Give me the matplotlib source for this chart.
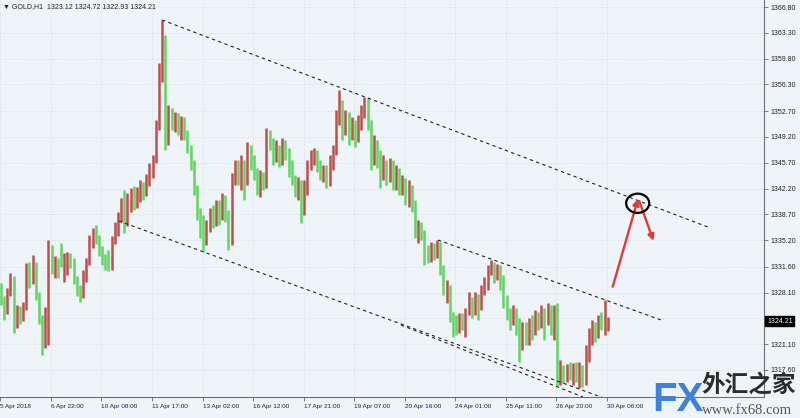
import numpy as np
import matplotlib.pyplot as plt
from matplotlib.patches import Ellipse

# GOLD,H1 screenshot in two-hour steps
opens = [1328.4, 1327.1, 1325.5, 1328.2, 1330.1, 1324.4, 1325.5, 1324.6, 1326.3, 1331.2,
         1329.8, 1332.2, 1327.8, 1324.6, 1321.0, 1324.1, 1333.9, 1331.4, 1332.5, 1334.5,
         1330.1, 1331.2, 1333.2, 1332.2, 1329.8, 1328.4, 1327.8, 1330.3, 1332.2, 1335.2,
         1336.0, 1335.5, 1333.9, 1332.8, 1332.2, 1331.7, 1335.2, 1336.6, 1338.2, 1340.6,
         1337.7, 1340.0, 1340.9, 1340.0, 1340.9, 1342.5, 1341.6, 1343.1, 1344.7, 1346.1,
         1350.4, 1356.9, 1362.3, 1349.0, 1352.6, 1350.8, 1351.8, 1350.4, 1351.5, 1349.5,
         1347.7, 1345.4, 1342.0, 1338.6, 1336.3, 1335.2, 1336.8, 1339.0, 1337.7, 1340.0,
         1338.6, 1340.6, 1338.6, 1335.2, 1343.4, 1345.4, 1343.6, 1345.4, 1343.4, 1347.4,
         1346.1, 1344.0, 1342.0, 1343.6, 1342.7, 1349.5, 1348.1, 1346.7, 1347.4, 1346.1,
         1348.5, 1346.7, 1345.4, 1343.4, 1342.0, 1342.7, 1339.3, 1342.7, 1345.4, 1346.7,
         1347.2, 1345.4, 1344.0, 1344.7, 1343.1, 1345.4, 1347.4, 1351.5, 1353.5, 1350.1,
         1351.8, 1350.1, 1350.8, 1349.0, 1350.8, 1352.8, 1354.2, 1350.8, 1346.3, 1347.4,
         1346.3, 1344.0, 1345.4, 1344.4, 1345.4, 1344.0, 1344.4, 1342.7, 1343.1, 1341.3,
         1342.0, 1340.0, 1336.6, 1337.3, 1335.9, 1333.2, 1332.8, 1334.1, 1333.2, 1334.5,
         1331.2, 1328.4, 1328.4, 1325.1, 1324.1, 1323.0, 1324.6, 1323.0, 1325.5, 1326.8,
         1325.7, 1327.4, 1326.4, 1328.4, 1329.8, 1331.4, 1331.8, 1330.5, 1331.4, 1329.8,
         1327.1, 1325.1, 1324.1, 1325.5, 1324.1, 1321.7, 1323.0, 1321.9, 1323.7, 1323.0,
         1324.6, 1323.7, 1325.1, 1324.4, 1325.7, 1323.0, 1325.1, 1316.9, 1317.9, 1316.5,
         1317.6, 1316.9, 1318.0, 1316.5, 1317.9, 1316.2, 1319.6, 1321.7, 1323.0, 1322.3,
         1324.4, 1323.0, 1323.12]
highs = [1329.4, 1327.6, 1328.7, 1330.7, 1330.3, 1326.4, 1326.3, 1326.8, 1332.1, 1332.2,
         1333.2, 1332.3, 1328.2, 1325.1, 1326.1, 1335.2, 1334.5, 1333.1, 1332.8, 1334.8,
         1333.5, 1333.6, 1333.5, 1332.8, 1330.3, 1329.1, 1331.2, 1332.8, 1335.9, 1336.8,
         1337.3, 1335.9, 1334.4, 1333.3, 1333.9, 1335.8, 1337.7, 1339.0, 1340.9, 1342.0,
         1341.6, 1342.3, 1342.5, 1342.4, 1343.4, 1343.1, 1344.2, 1345.7, 1346.7, 1351.5,
         1359.2, 1365.0, 1363.0, 1353.5, 1353.1, 1352.6, 1352.4, 1352.0, 1351.9, 1350.1,
         1348.1, 1346.1, 1342.7, 1339.6, 1338.6, 1337.9, 1339.6, 1340.0, 1340.6, 1340.6,
         1341.6, 1341.3, 1339.3, 1344.3, 1346.1, 1346.1, 1346.7, 1346.1, 1348.5, 1348.1,
         1346.7, 1345.0, 1344.7, 1344.4, 1350.4, 1350.1, 1349.0, 1348.8, 1348.1, 1349.0,
         1348.8, 1347.7, 1346.1, 1344.0, 1343.8, 1343.4, 1343.4, 1346.1, 1347.4, 1347.7,
         1347.4, 1346.1, 1345.4, 1345.4, 1346.7, 1348.1, 1352.8, 1355.6, 1354.2, 1352.8,
         1352.6, 1351.9, 1351.5, 1352.2, 1353.5, 1354.6, 1354.5, 1351.5, 1349.5, 1348.8,
         1347.4, 1346.7, 1346.1, 1346.3, 1346.1, 1345.4, 1345.0, 1344.0, 1343.6, 1343.4,
         1342.7, 1340.6, 1337.9, 1337.7, 1336.6, 1334.5, 1335.0, 1334.8, 1335.2, 1335.0,
         1331.8, 1329.8, 1329.1, 1325.5, 1325.1, 1325.3, 1325.3, 1326.0, 1328.2, 1327.5,
         1328.2, 1327.9, 1329.1, 1330.2, 1331.8, 1332.5, 1332.2, 1332.0, 1331.8, 1330.5,
         1327.8, 1326.0, 1326.4, 1326.0, 1324.6, 1324.1, 1324.1, 1324.6, 1325.1, 1325.7,
         1325.5, 1326.4, 1326.0, 1326.7, 1326.4, 1326.4, 1326.7, 1319.0, 1318.3, 1318.4,
         1318.7, 1318.5, 1318.7, 1318.7, 1318.3, 1321.0, 1323.3, 1324.4, 1324.1, 1325.1,
         1325.5, 1327.1, 1324.72]
lows = [1326.4, 1324.4, 1325.2, 1327.6, 1322.6, 1323.3, 1323.8, 1324.2, 1325.7, 1328.7,
        1329.3, 1327.1, 1323.8, 1319.6, 1320.6, 1321.0, 1330.6, 1330.1, 1330.1, 1331.6,
        1329.5, 1330.5, 1331.4, 1329.3, 1327.6, 1326.8, 1327.4, 1329.5, 1331.8, 1334.1,
        1334.7, 1333.1, 1331.8, 1331.2, 1331.0, 1331.2, 1334.7, 1335.8, 1337.7, 1336.2,
        1337.1, 1339.0, 1339.3, 1339.6, 1340.4, 1340.6, 1341.2, 1342.5, 1343.6, 1345.7,
        1350.1, 1356.6, 1347.4, 1348.1, 1350.1, 1349.9, 1349.5, 1348.8, 1348.8, 1347.0,
        1344.7, 1341.3, 1337.9, 1335.5, 1333.6, 1334.5, 1336.3, 1336.8, 1337.1, 1337.3,
        1337.9, 1337.7, 1333.9, 1334.5, 1342.7, 1342.7, 1342.0, 1340.6, 1342.7, 1344.7,
        1343.4, 1341.3, 1341.0, 1342.0, 1342.3, 1347.4, 1345.4, 1345.8, 1345.1, 1345.4,
        1346.1, 1343.8, 1342.7, 1341.0, 1340.6, 1337.5, 1338.6, 1341.3, 1344.7, 1345.4,
        1344.4, 1343.4, 1343.1, 1342.3, 1342.5, 1344.7, 1346.7, 1350.8, 1348.8, 1349.5,
        1348.1, 1348.8, 1347.8, 1348.5, 1350.1, 1351.8, 1350.1, 1344.7, 1345.4, 1345.0,
        1342.3, 1343.4, 1342.7, 1343.1, 1342.0, 1342.0, 1341.3, 1341.3, 1340.0, 1339.7,
        1339.0, 1335.5, 1334.8, 1335.2, 1331.8, 1332.1, 1332.2, 1332.5, 1332.8, 1330.5,
        1327.8, 1326.7, 1324.1, 1322.1, 1322.3, 1322.6, 1323.0, 1322.1, 1325.1, 1324.6,
        1325.1, 1324.4, 1325.7, 1327.8, 1328.4, 1330.5, 1329.4, 1329.8, 1328.4, 1326.0,
        1324.4, 1323.0, 1323.7, 1322.3, 1318.7, 1320.3, 1321.0, 1321.0, 1321.7, 1322.3,
        1323.0, 1323.3, 1321.7, 1323.7, 1322.3, 1321.7, 1315.4, 1315.6, 1315.8, 1316.0,
        1316.2, 1315.6, 1316.0, 1315.2, 1315.3, 1315.6, 1318.7, 1321.0, 1321.4, 1321.9,
        1323.0, 1322.3, 1322.93]
closes = [1327.1, 1325.5, 1328.2, 1330.1, 1324.4, 1325.5, 1324.6, 1326.3, 1331.2, 1329.8,
          1332.2, 1327.8, 1324.6, 1321.0, 1324.4, 1333.9, 1331.4, 1332.5, 1331.2, 1331.8,
          1333.1, 1333.2, 1331.8, 1329.8, 1328.2, 1327.4, 1330.5, 1332.2, 1335.2, 1336.0,
          1335.2, 1333.9, 1332.2, 1331.7, 1331.4, 1335.2, 1337.1, 1338.2, 1340.4, 1337.3,
          1340.0, 1340.9, 1340.0, 1341.3, 1342.7, 1341.3, 1343.4, 1345.0, 1346.1, 1350.4,
          1357.6, 1363.0, 1348.8, 1352.6, 1350.8, 1351.8, 1350.4, 1351.5, 1349.5, 1347.4,
          1345.4, 1342.0, 1338.6, 1336.3, 1335.2, 1337.3, 1339.0, 1337.9, 1340.0, 1338.6,
          1340.9, 1338.6, 1335.2, 1343.4, 1345.4, 1343.6, 1344.7, 1342.7, 1347.4, 1345.8,
          1344.0, 1342.7, 1344.0, 1342.7, 1349.5, 1348.1, 1346.7, 1347.4, 1346.1, 1348.5,
          1346.7, 1345.4, 1343.4, 1341.7, 1342.7, 1339.3, 1342.7, 1345.4, 1346.7, 1347.2,
          1345.4, 1344.0, 1344.7, 1343.1, 1345.4, 1347.4, 1351.5, 1353.5, 1350.1, 1351.8,
          1350.1, 1350.8, 1348.8, 1350.8, 1352.8, 1354.2, 1350.8, 1346.1, 1347.4, 1346.1,
          1344.0, 1345.4, 1344.4, 1345.4, 1344.0, 1344.7, 1342.7, 1343.1, 1341.3, 1342.3,
          1340.0, 1336.6, 1337.3, 1335.9, 1333.2, 1332.8, 1334.1, 1333.2, 1334.5, 1331.2,
          1328.4, 1329.1, 1325.1, 1323.0, 1323.0, 1324.6, 1323.7, 1325.5, 1326.8, 1325.7,
          1327.4, 1326.4, 1328.4, 1329.8, 1331.4, 1331.8, 1330.5, 1331.4, 1329.8, 1327.1,
          1325.1, 1324.1, 1325.5, 1324.1, 1321.7, 1323.0, 1322.3, 1323.7, 1323.0, 1324.6,
          1323.7, 1325.1, 1324.4, 1325.7, 1324.4, 1325.1, 1316.9, 1317.9, 1316.9, 1317.9,
          1317.3, 1318.0, 1317.3, 1317.9, 1316.2, 1319.6, 1321.7, 1323.0, 1322.3, 1324.4,
          1323.7, 1323.7, 1324.21]

date_labels = ["5 Apr 2018", "6 Apr 22:00", "10 Apr 08:00", "11 Apr 17:00", "13 Apr 02:00",
               "16 Apr 12:00", "17 Apr 21:00", "19 Apr 07:00", "20 Apr 16:00", "24 Apr 01:00",
               "25 Apr 11:00", "26 Apr 20:00", "30 Apr 06:00"]
price_ticks = [1366.80, 1363.30, 1359.80, 1356.30, 1352.70, 1349.20, 1345.70, 1342.20,
               1338.70, 1335.20, 1331.60, 1328.10, 1324.60, 1321.10, 1317.60]

# hand-drawn channel lines, (bar, price) at each end
upper_line = [(51.0, 1365.04), (223.7, 1336.98)]
lower_line = [(37.3, 1337.80), (190.8, 1313.80)]
lower_line2 = [(126.6, 1323.70), (184.2, 1313.94)]
mid_line = [(138.3, 1335.22), (209.8, 1324.24)]

bg = '#eff4f9'
up_col = '#bd4f4c'
down_col = '#62d562'

fig = plt.figure(figsize=(8, 4.18), dpi=100, facecolor=bg)
ax = fig.add_axes([0, 21 / 418, 764 / 800, 397 / 418], facecolor=bg)

o = np.array(opens)
h = np.array(highs)
l = np.array(lows)
c = np.array(closes)
x = np.arange(len(c))
up = c >= o

ax.vlines(x[up], l[up], h[up], colors=up_col, lw=1.8, zorder=3)
ax.vlines(x[~up], l[~up], h[~up], colors=down_col, lw=1.8, zorder=3)

for pts in (upper_line, lower_line, lower_line2, mid_line):
    (x0, y0), (x1, y1) = pts
    ax.plot([x0, x1], [y0, y1], color='#222222', lw=0.8, ls=(0, (3, 3)), zorder=4)

# red arrows and circle
ax.annotate('', xy=(201.6, 1340.8), xytext=(193.6, 1328.9),
            arrowprops=dict(arrowstyle='-|>', color='#e53935', lw=1.7, mutation_scale=9,
                            shrinkA=0, shrinkB=0), zorder=5)
ax.annotate('', xy=(206.5, 1335.1), xytext=(202.0, 1340.5),
            arrowprops=dict(arrowstyle='-|>', color='#e53935', lw=1.7, mutation_scale=9,
                            shrinkA=0, shrinkB=0), zorder=5)
ax.add_patch(Ellipse((201.5, 1340.2), 7.3, 2.6, fill=False, ec='black', lw=1.6, zorder=6))

ax.set_xlim(-0.3, -0.3 + 764 / 3.16)
ax.set_ylim(1313.94, 1367.75)

xt = np.arange(len(date_labels)) * 16 - 0.2
ax.set_xticks(xt)
ax.set_xticklabels(date_labels, fontsize=4.6, family='Liberation Sans', color='#222222')
for lab in ax.get_xticklabels():
    lab.set_horizontalalignment('left')

# the 1324.60 label sits under the last-price box
ax.set_yticks(price_ticks)
ax.set_yticklabels(["" if abs(v - 1324.60) < 0.01 else f"{v:.2f}" for v in price_ticks],
                   fontsize=5, family='Liberation Sans', color='#222222')
ax.yaxis.tick_right()
ax.tick_params(axis='both', direction='out', length=3, width=0.6, color='#666666', pad=2)

ax.grid(True, color='#cdd6e1', lw=0.6, ls=(0, (1, 2)))
ax.set_axisbelow(True)
for s in ('top', 'left'):
    ax.spines[s].set_visible(False)
for s in ('right', 'bottom'):
    ax.spines[s].set_color('#6f6f6f')
    ax.spines[s].set_linewidth(0.8)

# last price box
ax.text(1.004, closes[-1], f"{closes[-1]:.2f}", transform=ax.get_yaxis_transform(),
        fontsize=5, family='Liberation Sans', color='white', va='center', ha='left',
        bbox=dict(boxstyle='square,pad=0.25', fc='black', ec='black'), zorder=10)

fig.text(3 / 800, 1 - 7 / 418, "▼ GOLD,H1  1323.12 1324.72 1322.93 1324.21", fontsize=5,
         family=['Liberation Sans', 'DejaVu Sans'], color='#222222', va='center')

# watermark
fig.text(652 / 800, 1 - 400 / 418, "FX", fontsize=29, fontweight='bold', color='#3f82d2',
         family='Liberation Sans', va='center', ha='left', zorder=20)
fig.text(701 / 800, 1 - 385 / 418, "外汇之家", fontsize=17, fontweight='bold', color='#2c2c2c',
         family=['Noto Sans CJK SC', 'DejaVu Sans'], va='center', ha='left', zorder=20)
fig.text(702 / 800, 1 - 411 / 418, "www.fx68.com", fontsize=10.5, color='#555555',
         family='Liberation Serif', va='center', ha='left', zorder=20)

fig.savefig('out.png', dpi=100, facecolor=bg)
